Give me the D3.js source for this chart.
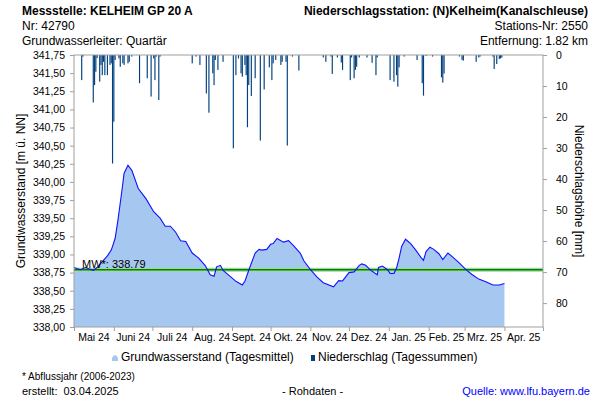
<!DOCTYPE html>
<html><head><meta charset="utf-8">
<script src="https://cdn.jsdelivr.net/npm/d3@7"></script>
<style>body{margin:0;background:#fff;} svg{display:block;font-family:"Liberation Sans",Arial,sans-serif;}</style>
</head><body><svg id="c" width="600" height="400"></svg>
<script>
const gwDates = ["2024-05-01","2024-05-06","2024-05-10","2024-05-13","2024-05-16","2024-05-19","2024-05-23","2024-05-27","2024-05-30","2024-06-02","2024-06-04","2024-06-07","2024-06-09","2024-06-12","2024-06-15","2024-06-20","2024-06-26","2024-07-02","2024-07-07","2024-07-11","2024-07-15","2024-07-19","2024-07-23","2024-07-27","2024-08-01","2024-08-06","2024-08-11","2024-08-15","2024-08-18","2024-08-20","2024-08-23","2024-08-25","2024-08-31","2024-09-04","2024-09-09","2024-09-11","2024-09-15","2024-09-19","2024-09-22","2024-09-24","2024-09-28","2024-10-01","2024-10-03","2024-10-06","2024-10-11","2024-10-15","2024-10-19","2024-10-24","2024-10-27","2024-11-01","2024-11-06","2024-11-11","2024-11-19","2024-11-23","2024-11-26","2024-12-01","2024-12-05","2024-12-09","2024-12-11","2024-12-14","2024-12-18","2024-12-23","2024-12-24","2024-12-27","2024-12-31","2025-01-02","2025-01-05","2025-01-07","2025-01-09","2025-01-11","2025-01-14","2025-01-18","2025-01-22","2025-01-26","2025-01-28","2025-01-30","2025-02-02","2025-02-05","2025-02-09","2025-02-12","2025-02-16","2025-02-20","2025-02-25","2025-03-02","2025-03-07","2025-03-12","2025-03-18","2025-03-23","2025-03-28","2025-04-01"];
const gwValues = [338.82,338.79,338.82,338.80,338.78,338.82,338.90,338.98,339.06,339.22,339.45,339.84,340.12,340.23,340.16,339.91,339.77,339.59,339.50,339.39,339.39,339.31,339.19,339.18,339.02,338.95,338.85,338.72,338.70,338.83,338.85,338.78,338.69,338.63,338.58,338.63,338.83,339.02,339.07,339.06,339.07,339.14,339.15,339.22,339.17,339.19,339.12,339.02,338.91,338.79,338.69,338.61,338.555,338.64,338.635,338.75,338.76,338.85,338.87,338.85,338.78,338.72,338.82,338.84,338.79,338.74,338.74,338.81,338.95,339.11,339.21,339.15,339.06,338.96,338.92,339.04,339.10,339.07,339.01,338.93,339.02,338.96,338.88,338.79,338.72,338.66,338.62,338.58,338.58,338.60];
const precipDates = ["2024-05-07","2024-05-08","2024-05-16","2024-05-17","2024-05-18","2024-05-19","2024-05-21","2024-05-22","2024-05-23","2024-05-24","2024-05-25","2024-05-27","2024-05-29","2024-05-30","2024-05-31","2024-06-01","2024-06-02","2024-06-05","2024-06-06","2024-06-08","2024-06-09","2024-06-12","2024-06-13","2024-06-15","2024-06-21","2024-06-27","2024-06-30","2024-07-02","2024-07-03","2024-07-04","2024-07-06","2024-07-07","2024-08-01","2024-08-04","2024-08-07","2024-08-12","2024-08-14","2024-08-17","2024-08-18","2024-08-19","2024-08-21","2024-08-25","2024-09-02","2024-09-04","2024-09-06","2024-09-08","2024-09-09","2024-09-11","2024-09-12","2024-09-13","2024-09-14","2024-09-16","2024-09-19","2024-09-23","2024-09-26","2024-09-30","2024-10-02","2024-10-03","2024-10-05","2024-10-09","2024-10-10","2024-10-13","2024-10-14","2024-10-18","2024-10-23","2024-11-11","2024-11-13","2024-11-17","2024-11-18","2024-11-22","2024-11-25","2024-11-26","2024-12-02","2024-12-03","2024-12-05","2024-12-06","2024-12-07","2024-12-09","2024-12-15","2024-12-19","2024-12-22","2024-12-23","2025-01-02","2025-01-05","2025-01-07","2025-01-08","2025-01-09","2025-01-13","2025-01-23","2025-01-27","2025-01-28","2025-01-30","2025-02-04","2025-02-11","2025-02-12","2025-02-13","2025-02-25","2025-02-27","2025-02-28","2025-03-10","2025-03-12","2025-03-13","2025-03-23","2025-03-24","2025-03-26","2025-03-28","2025-03-29","2025-03-30"];
const precipValues = [8.1,0.5,15.3,9.7,5.4,1.0,8.6,3.2,6.5,2.2,6.5,6.5,3.2,2.7,35.0,21.5,1.6,1.1,3.8,2.7,3.2,2.7,2.2,0.5,9.1,7.5,13.4,1.1,8.1,0.5,14.5,0.5,2.7,0.5,3.2,12.4,18.6,5.9,9.7,1.6,4.8,2.2,30.1,6.5,1.1,5.9,7.0,3.2,6.5,23.3,9.7,13.2,7.5,27.6,11.1,4.0,8.1,2.7,1.6,3.2,2.2,2.2,29.2,0.5,5.0,0.8,2.2,0.5,6.1,0.8,2.4,4.8,8.1,0.8,7.5,4.8,3.8,0.8,0.8,2.5,6.5,0.8,8.1,8.6,6.5,10.2,4.0,0.5,1.6,9.1,13.1,0.3,0.5,7.2,8.9,6.0,0.5,1.6,1.8,2.2,0.8,0.5,0.5,4.5,2.9,1.3,1.1,0.8];
const monthLabels = ["Mai 24","Juni 24","Juli 24","Aug. 24","Sept. 24","Okt. 24","Nov. 24","Dez. 24","Jan. 25","Feb. 25","Mrz. 25","Apr. 25"];
const leftTicks = [338.00,338.25,338.50,338.75,339.00,339.25,339.50,339.75,340.00,340.25,340.50,340.75,341.00,341.25,341.50,341.75];
const rightTicks = [0,10,20,30,40,50,60,70,80];
const meanValue = 338.79;
const meanLabel = "MW*: 338.79";
const headerLeft = ["Messstelle: KELHEIM GP 20 A","Nr: 42790","Grundwasserleiter: Quartär"];
const headerRight = ["Niederschlagsstation: (N)Kelheim(Kanalschleuse)","Stations-Nr: 2550","Entfernung: 1.82 km"];

const parse = d3.utcParse("%Y-%m-%d");
const svg = d3.select("#c");
const L = 74, R = 543, T = 55, B = 327;

const x = d3.scaleUtc().domain([parse("2024-05-01"), parse("2025-05-01")]).range([L, R]);
const y = d3.scaleLinear().domain([338, 341.75]).range([B, T]);
const yP = d3.scaleLinear().domain([0, 87.7]).range([T, B]);

const gw = gwDates.map((d,i)=>({d:parse(d), v:gwValues[i]}));
const pr = precipDates.map((d,i)=>({d:parse(d), v:precipValues[i]}));

// area
svg.append("path").datum(gw)
  .attr("fill","#a6c8f0")
  .attr("d", d3.area().x(p=>x(p.d)).y0(y(338)).y1(p=>y(p.v)));

// mean line
svg.append("line").attr("x1",L).attr("x2",R).attr("y1",y(meanValue)).attr("y2",y(meanValue))
  .attr("stroke","#9ed89e").attr("stroke-width",4);
svg.append("line").attr("x1",L).attr("x2",R).attr("y1",y(meanValue)).attr("y2",y(meanValue))
  .attr("stroke","#008000").attr("stroke-width",1.6);

// gw line
svg.append("path").datum(gw)
  .attr("fill","none").attr("stroke","#1010ff").attr("stroke-width",1.1)
  .attr("d", d3.line().x(p=>x(p.d)).y(p=>y(p.v)));

// precip bars
const dayW = x(parse("2024-05-02")) - x(parse("2024-05-01"));
svg.append("g").selectAll("rect").data(pr).join("rect")
  .attr("x", p=>x(p.d) - dayW*0.45).attr("width", dayW*0.9)
  .attr("y", yP(0)).attr("height", p=>yP(p.v)-yP(0))
  .attr("fill","#00407f");

// frame
svg.append("rect").attr("x",L).attr("y",T).attr("width",R-L).attr("height",B-T)
  .attr("fill","none").attr("stroke","#a0a0a0").attr("stroke-width",1);

// axes
const fmtL = v => d3.format(".2f")(v).replace(".", ",");
const axL = svg.append("g").attr("transform",`translate(${L},0)`)
  .call(d3.axisLeft(y).tickValues(leftTicks).tickFormat(fmtL).tickSize(4).tickPadding(5));
const axR = svg.append("g").attr("transform",`translate(${R},0)`)
  .call(d3.axisRight(yP).tickValues(rightTicks).tickSize(4).tickPadding(9));
const monthStarts = d3.utcMonth.range(parse("2024-05-01"), parse("2025-05-02"));
const axB = svg.append("g").attr("transform",`translate(0,${B})`)
  .call(d3.axisBottom(x).tickValues(monthStarts).tickFormat("").tickSize(4));
[axL,axR,axB].forEach(a=>{
  a.select(".domain").remove();
  a.selectAll(".tick line").attr("stroke","#a0a0a0");
  a.selectAll("text").attr("font-size","10.5px").attr("fill","#000").attr("font-family","Liberation Sans, Arial, sans-serif");
});
svg.append("g").selectAll("text").data(monthLabels).join("text")
  .attr("x",(d,i)=> (x(monthStarts[i]) + x(monthStarts[i+1]))/2)
  .attr("y", 341).attr("text-anchor","middle")
  .attr("font-size","10.5px").attr("fill","#000")
  .text(d=>d);

// mean label
svg.append("text").attr("x",82).attr("y",y(meanValue)-2).attr("font-size","11px").text(meanLabel);

// axis titles
svg.append("text").attr("transform",`translate(25,${(T+B)/2}) rotate(-90)`)
  .attr("text-anchor","middle").attr("font-size","12px").text("Grundwasserstand [m ü. NN]");
svg.append("text").attr("transform",`translate(575,${(T+B)/2}) rotate(90)`)
  .attr("text-anchor","middle").attr("font-size","12px").text("Niederschlagshöhe [mm]");

// headers
const hy = [15, 29.5, 44.5];
headerLeft.forEach((t,i)=>svg.append("text").attr("x",22).attr("y",hy[i]).attr("font-size","12px")
  .attr("font-weight", i===0?"bold":"normal").text(t));
headerRight.forEach((t,i)=>svg.append("text").attr("x",588).attr("y",hy[i]).attr("font-size","12px")
  .attr("text-anchor","end").attr("font-weight", i===0?"bold":"normal").text(t));

// legend
svg.append("path").attr("d","M112,361 L112,358 Q115,352 118,358 L118,361 Z").attr("fill","#a6c8f0");
svg.append("text").attr("x",121).attr("y",361).attr("font-size","12px").text("Grundwasserstand (Tagesmittel)");
svg.append("rect").attr("x",311).attr("y",355).attr("width",4).attr("height",6).attr("fill","#00407f");
svg.append("text").attr("x",318).attr("y",361).attr("font-size","12px").text("Niederschlag (Tagessummen)");

// footer
svg.append("text").attr("x",22).attr("y",380).attr("font-size","10px").text("* Abflussjahr (2006-2023)");
svg.append("text").attr("x",22).attr("y",395).attr("font-size","11px").attr("xml:space","preserve").text("erstellt:  03.04.2025");
svg.append("text").attr("x",282).attr("y",395).attr("font-size","11px").text("- Rohdaten -");
svg.append("text").attr("x",590).attr("y",395).attr("font-size","11px").attr("text-anchor","end").attr("fill","#0000ff").text("Quelle: www.lfu.bayern.de");
</script></body></html>
